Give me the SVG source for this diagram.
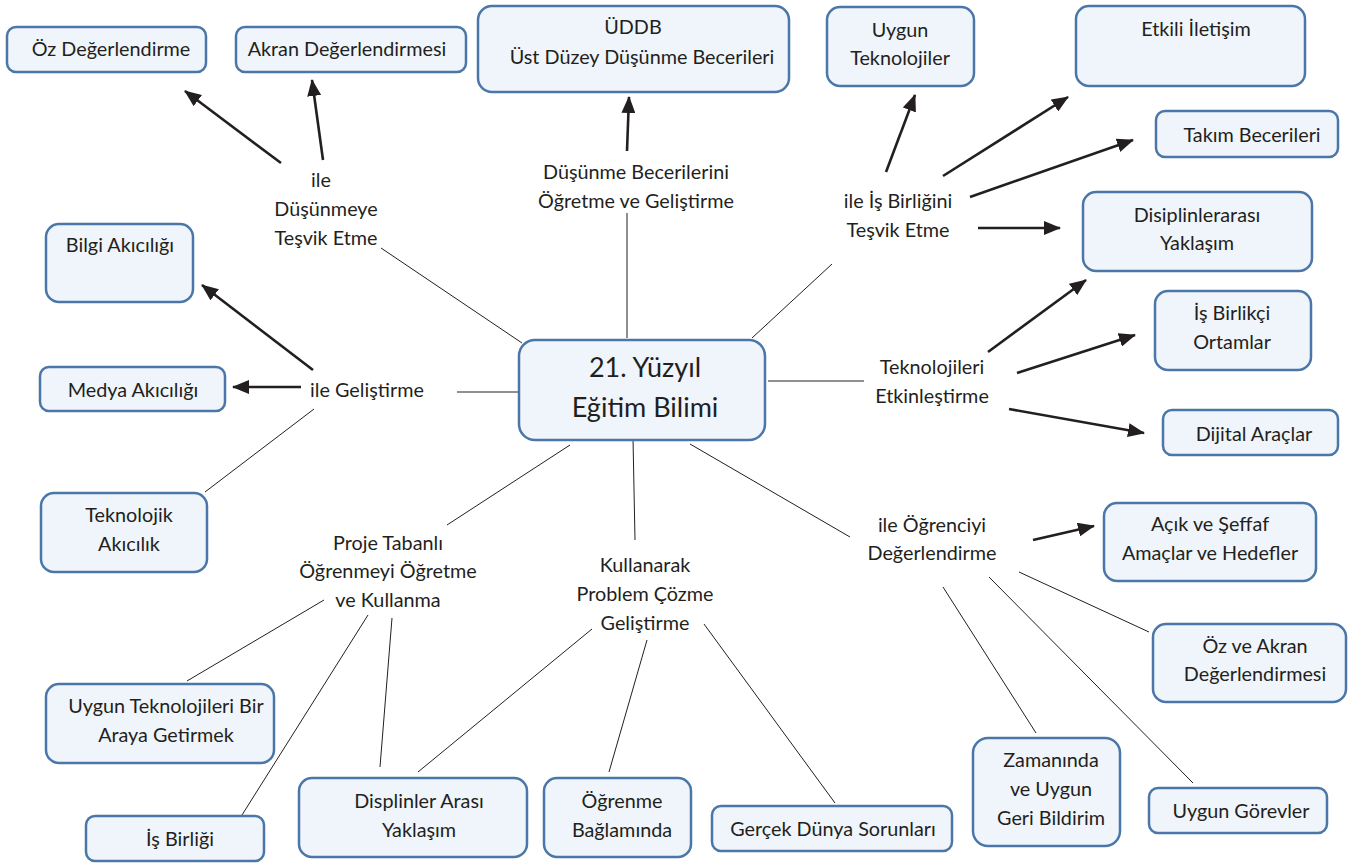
<svg xmlns="http://www.w3.org/2000/svg" width="1351" height="863" viewBox="0 0 1351 863">
  <style>
    .box { fill: #eff5fb; stroke: #4a76a8; stroke-width: 2.5; }
    text { font-family: Lato, "Liberation Sans", sans-serif; font-size: 19.8px; fill: #231f20; text-anchor: middle; }
    .big { font-size: 27px; }
    .thin { stroke: #231f20; stroke-width: 1; fill: none; }
    .thick { stroke: #231f20; stroke-width: 2.6; fill: none; marker-end: url(#head); }
  </style>
  <defs>
    <marker id="head" markerUnits="userSpaceOnUse" markerWidth="18" markerHeight="14" refX="16" refY="7" orient="auto">
      <path d="M0,0 L17,7 L0,14 Z" fill="#231f20"/>
    </marker>
  </defs>
  <rect width="1351" height="863" fill="#ffffff"/>

  <!-- connectors -->
  <g id="connectors">
    <!-- centre to linking phrases -->
    <line class="thin" x1="522" y1="343" x2="381" y2="248"/>
    <line class="thin" x1="627" y1="338" x2="627" y2="213"/>
    <line class="thin" x1="752" y1="338" x2="832" y2="264"/>
    <line class="thin" x1="519" y1="392" x2="457" y2="392"/>
    <line class="thin" x1="768" y1="381" x2="864" y2="381"/>
    <line class="thin" x1="570" y1="445" x2="447" y2="525"/>
    <line class="thin" x1="633" y1="438" x2="635" y2="540"/>
    <line class="thin" x1="690" y1="444" x2="850" y2="537"/>
    <!-- thinking -->
    <line class="thick" x1="281" y1="163" x2="185" y2="91"/>
    <line class="thick" x1="323" y1="160" x2="312" y2="80"/>
    <line class="thick" x1="627" y1="151" x2="629" y2="97"/>
    <!-- collaboration -->
    <line class="thick" x1="886" y1="172" x2="915" y2="95"/>
    <line class="thick" x1="943" y1="176" x2="1068" y2="97"/>
    <line class="thick" x1="970" y1="197" x2="1133" y2="140"/>
    <line class="thick" x1="978" y1="228" x2="1060" y2="228"/>
    <!-- technologies -->
    <line class="thick" x1="988" y1="352" x2="1086" y2="280"/>
    <line class="thick" x1="1017" y1="373" x2="1135" y2="335"/>
    <line class="thick" x1="1009" y1="409" x2="1144" y2="433"/>
    <!-- assessment -->
    <line class="thick" x1="1033" y1="540" x2="1094" y2="526"/>
    <line class="thin" x1="1019" y1="572" x2="1149" y2="632"/>
    <line class="thin" x1="989" y1="577" x2="1193" y2="783"/>
    <line class="thin" x1="943" y1="587" x2="1036" y2="733"/>
    <!-- fluencies -->
    <line class="thick" x1="313" y1="370" x2="202" y2="285"/>
    <line class="thick" x1="301" y1="387" x2="233" y2="387"/>
    <line class="thin" x1="314" y1="409" x2="205" y2="492"/>
    <!-- project based learning -->
    <line class="thin" x1="324" y1="600" x2="187" y2="681"/>
    <line class="thin" x1="368" y1="615" x2="242" y2="815"/>
    <line class="thin" x1="392" y1="618" x2="380" y2="767"/>
    <!-- problem solving -->
    <line class="thin" x1="592" y1="629" x2="418" y2="772"/>
    <line class="thin" x1="647" y1="640" x2="609" y2="772"/>
    <line class="thin" x1="704" y1="624" x2="835" y2="803"/>
  </g>

  <!-- linking phrases -->
  <g id="link-dusunmeye">
    <text x="321" y="187">ile</text>
    <text x="326" y="216">Düşünmeye</text>
    <text x="326" y="245">Teşvik Etme</text>
  </g>
  <g id="link-beceriler">
    <text x="636" y="179">Düşünme Becerilerini</text>
    <text x="636" y="208">Öğretme ve Geliştirme</text>
  </g>
  <g id="link-isbirligi">
    <text x="898" y="208">ile İş Birliğini</text>
    <text x="898" y="237">Teşvik Etme</text>
  </g>
  <g id="link-gelistirme">
    <text x="367" y="397">ile Geliştirme</text>
  </g>
  <g id="link-teknoloji">
    <text x="932" y="374">Teknolojileri</text>
    <text x="932" y="403">Etkinleştirme</text>
  </g>
  <g id="link-degerlendirme">
    <text x="932" y="532">ile Öğrenciyi</text>
    <text x="932" y="560">Değerlendirme</text>
  </g>
  <g id="link-proje">
    <text x="388" y="550">Proje Tabanlı</text>
    <text x="388" y="578">Öğrenmeyi Öğretme</text>
    <text x="388" y="607">ve Kullanma</text>
  </g>
  <g id="link-problem">
    <text x="645" y="572">Kullanarak</text>
    <text x="645" y="601">Problem Çözme</text>
    <text x="645" y="630">Geliştirme</text>
  </g>

  <!-- central concept -->
  <g id="center">
    <rect class="box" x="519" y="340" width="246" height="100" rx="16"/>
    <text class="big" x="645" y="377">21. Yüzyıl</text>
    <text class="big" x="645" y="417">Eğitim Bilimi</text>
  </g>

  <!-- concept boxes -->
  <g id="oz-degerlendirme">
    <rect class="box" x="7" y="27" width="199" height="45" rx="9"/>
    <text x="111" y="56">Öz Değerlendirme</text>
  </g>
  <g id="akran-degerlendirmesi">
    <rect class="box" x="236" y="27" width="230" height="45" rx="9"/>
    <text x="347" y="56">Akran Değerlendirmesi</text>
  </g>
  <g id="uddb">
    <rect class="box" x="478" y="6" width="311" height="86" rx="14"/>
    <text x="633" y="34">ÜDDB</text>
    <text x="642" y="64">Üst Düzey Düşünme Becerileri</text>
  </g>
  <g id="uygun-teknolojiler">
    <rect class="box" x="827" y="7" width="147" height="79" rx="13"/>
    <text x="900" y="37">Uygun</text>
    <text x="900" y="65">Teknolojiler</text>
  </g>
  <g id="etkili-iletisim">
    <rect class="box" x="1076" y="6" width="229" height="80" rx="13"/>
    <text x="1196" y="36">Etkili İletişim</text>
  </g>
  <g id="takim-becerileri">
    <rect class="box" x="1156" y="111" width="182" height="46" rx="9"/>
    <text x="1252" y="142">Takım Becerileri</text>
  </g>
  <g id="disiplinlerarasi">
    <rect class="box" x="1083" y="192" width="229" height="79" rx="13"/>
    <text x="1197" y="222">Disiplinlerarası</text>
    <text x="1197" y="250">Yaklaşım</text>
  </g>
  <g id="is-birlikci-ortamlar">
    <rect class="box" x="1155" y="291" width="156" height="79" rx="13"/>
    <text x="1232" y="320">İş Birlikçi</text>
    <text x="1232" y="349">Ortamlar</text>
  </g>
  <g id="dijital-araclar">
    <rect class="box" x="1163" y="410" width="175" height="45" rx="9"/>
    <text x="1254" y="441">Dijital Araçlar</text>
  </g>
  <g id="acik-seffaf">
    <rect class="box" x="1104" y="503" width="212" height="78" rx="13"/>
    <text x="1210" y="531">Açık ve Şeffaf</text>
    <text x="1210" y="560">Amaçlar ve Hedefler</text>
  </g>
  <g id="oz-ve-akran">
    <rect class="box" x="1153" y="624" width="193" height="78" rx="13"/>
    <text x="1255" y="653">Öz ve Akran</text>
    <text x="1255" y="681">Değerlendirmesi</text>
  </g>
  <g id="uygun-gorevler">
    <rect class="box" x="1149" y="788" width="178" height="45" rx="9"/>
    <text x="1241" y="818">Uygun Görevler</text>
  </g>
  <g id="zamaninda">
    <rect class="box" x="973" y="738" width="147" height="108" rx="15"/>
    <text x="1051" y="767">Zamanında</text>
    <text x="1051" y="796">ve Uygun</text>
    <text x="1051" y="825">Geri Bildirim</text>
  </g>
  <g id="gercek-dunya">
    <rect class="box" x="712" y="806" width="240" height="45" rx="9"/>
    <text x="833" y="836">Gerçek Dünya Sorunları</text>
  </g>
  <g id="ogrenme-baglaminda">
    <rect class="box" x="544" y="778" width="147" height="79" rx="13"/>
    <text x="622" y="808">Öğrenme</text>
    <text x="622" y="837">Bağlamında</text>
  </g>
  <g id="displinler-arasi">
    <rect class="box" x="299" y="778" width="228" height="79" rx="13"/>
    <text x="419" y="808">Displinler Arası</text>
    <text x="419" y="837">Yaklaşım</text>
  </g>
  <g id="is-birligi">
    <rect class="box" x="86" y="816" width="178" height="45" rx="9"/>
    <text x="180" y="846">İş Birliği</text>
  </g>
  <g id="uygun-teknolojileri-bir-araya">
    <rect class="box" x="46" y="684" width="228" height="79" rx="13"/>
    <text x="166" y="713">Uygun Teknolojileri Bir</text>
    <text x="166" y="742">Araya Getirmek</text>
  </g>
  <g id="teknolojik-akicilik">
    <rect class="box" x="41" y="493" width="166" height="79" rx="13"/>
    <text x="129" y="522">Teknolojik</text>
    <text x="129" y="551">Akıcılık</text>
  </g>
  <g id="medya-akiciligi">
    <rect class="box" x="40" y="367" width="185" height="44" rx="9"/>
    <text x="133" y="397">Medya Akıcılığı</text>
  </g>
  <g id="bilgi-akiciligi">
    <rect class="box" x="46" y="224" width="147" height="78" rx="13"/>
    <text x="120" y="252">Bilgi Akıcılığı</text>
  </g>
</svg>
